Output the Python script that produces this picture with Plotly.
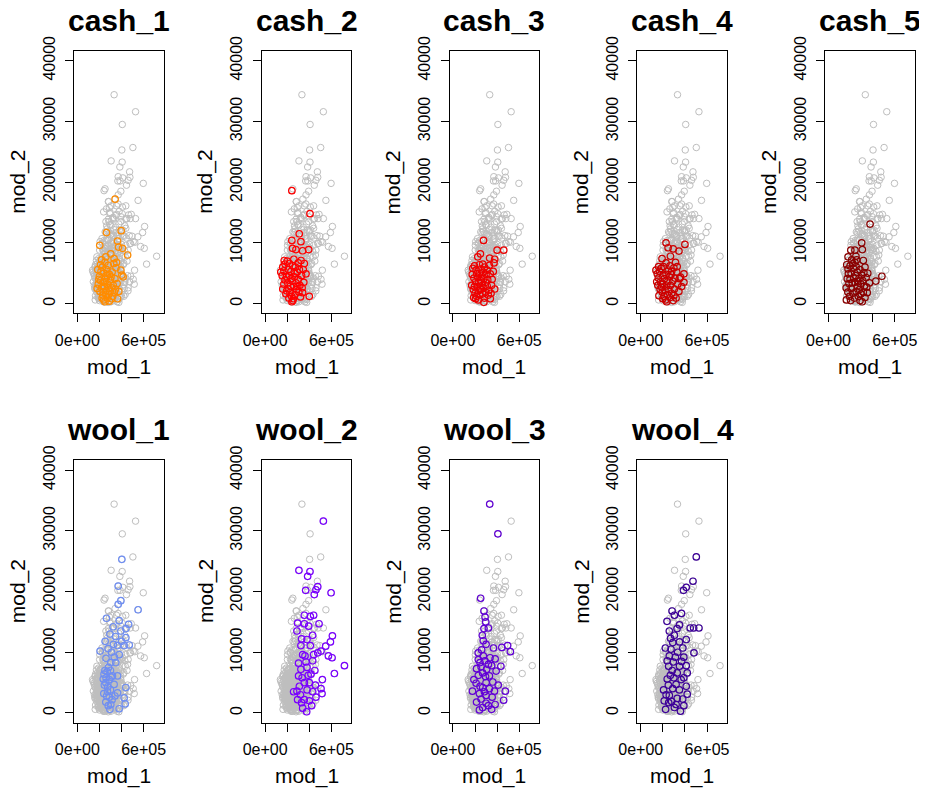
import plotly.graph_objects as go

# ---------------- data (mod_1, mod_2) per group ----------------
cash_1 = [(3.42e5,17200),(2.64e5,11700),(3.97e5,12000),(2.03e5,9600),(3.64e5,10300),(3.73e5,9300),(4.09e5,9100),(4.55e5,8000),(3.03e5,8200),(2.58e5,7700),(3.33e5,7400),(3.94e5,5500),(4.03e5,4700),(4.15e5,4400),(1.85e5,5600),(2.27e5,6000),(3.64e5,800),
          (2.00e5,4500),(2.10e5,3800),(1.90e5,3200),(2.20e5,2600),(2.05e5,2000),(2.30e5,1400),(2.40e5,600),(2.50e5,300),(2.70e5,900),(2.85e5,1500),(2.60e5,2100),(2.45e5,2800),(2.35e5,3500),(2.55e5,4200),(2.40e5,5000),(2.65e5,5600),(2.80e5,6300),(2.90e5,4800),(3.00e5,3900),(2.75e5,3200),(3.10e5,2600),(2.95e5,2000),(3.20e5,1200),(3.35e5,1900),(3.25e5,3000),(3.40e5,4100),(3.15e5,5200),(3.50e5,5900),(3.30e5,6600),(2.50e5,6800),(2.20e5,7200),(2.15e5,5300),(1.95e5,4000),(2.60e5,1500),(2.85e5,2600),(3.05e5,4400),(2.70e5,4600),(3.45e5,2400),(3.60e5,3300),(2.25e5,900),(2.90e5,400),(3.10e5,800),(2.35e5,1900),(2.50e5,3600),(2.75e5,5000),(3.55e5,6800),(2.10e5,6400),(3.75e5,2000),(1.80e5,2500)]

cash_2 = [(2.42e5,18600),(4.06e5,14800),(3.09e5,11500),(2.42e5,10400),(3.24e5,10200),(2.48e5,9100),(2.79e5,8900),(3.39e5,8700),(3.94e5,8900),(3.55e5,6600),(1.73e5,7100),(1.42e5,5200),(1.94e5,4400),(4.00e5,1200),(1.88e5,1600),(2.42e5,300),(3.39e5,1800),(3.70e5,4900),
          (1.60e5,6000),(1.80e5,6500),(2.00e5,7000),(2.20e5,6600),(2.10e5,5600),(1.70e5,5400),(1.55e5,4600),(1.80e5,3900),(2.05e5,3400),(2.20e5,4600),(2.35e5,5300),(2.50e5,6200),(2.60e5,7300),(2.75e5,6000),(2.90e5,5200),(2.65e5,4400),(2.45e5,3700),(2.30e5,2900),(2.10e5,2400),(1.95e5,2100),(2.25e5,1800),(2.40e5,1200),(2.55e5,800),(2.70e5,1500),(2.85e5,2300),(2.60e5,2800),(2.80e5,3400),(3.00e5,4000),(3.15e5,3000),(3.05e5,1900),(3.20e5,1100),(3.35e5,2600),(3.30e5,4600),(3.10e5,5600),(3.45e5,5600),(3.00e5,6700),(3.25e5,7100),(2.50e5,500),(2.15e5,900),(1.70e5,3200),(1.60e5,2400),(2.35e5,4100),(2.95e5,2800),(2.70e5,5000),(3.50e5,3500)]

cash_3 = [(2.77e5,10400),(4.00e5,8800),(4.60e5,8800),(2.49e5,8200),(2.25e5,7700),(3.32e5,7500),(3.78e5,7300),(3.72e5,6700),(2.86e5,6000),(3.38e5,4900),(3.78e5,2400),(3.38e5,800),(2.80e5,200),(1.88e5,1000),
          (1.80e5,5800),(1.95e5,6200),(2.10e5,5500),(1.75e5,4800),(1.90e5,4200),(2.05e5,3600),(1.70e5,3000),(1.85e5,2300),(2.00e5,1700),(2.15e5,1200),(2.30e5,600),(2.45e5,1400),(2.30e5,2100),(2.20e5,2800),(2.35e5,3400),(2.25e5,4300),(2.40e5,5000),(2.55e5,5700),(2.70e5,6500),(2.60e5,4500),(2.50e5,3800),(2.65e5,3000),(2.55e5,2300),(2.70e5,1600),(2.85e5,900),(2.95e5,1900),(2.80e5,2600),(2.95e5,3500),(2.80e5,4100),(3.00e5,4800),(3.10e5,5500),(3.15e5,3900),(3.10e5,2900),(3.25e5,2200),(3.20e5,1400),(3.45e5,1700),(3.50e5,3000),(3.55e5,4000),(2.05e5,800),(1.95e5,2800),(2.40e5,6400),(3.30e5,6300),(2.15e5,4900),(2.45e5,2600),(2.75e5,5200),(3.65e5,5300)]

cash_4 = [(2.29e5,10000),(4.00e5,9750),(2.48e5,9200),(2.94e5,9000),(3.46e5,8650),(1.93e5,7400),(2.69e5,7800),(3.15e5,6800),(2.29e5,6700),(1.62e5,6100),(1.38e5,5500),(3.91e5,4900),(3.91e5,3500),(3.60e5,4350),(2.94e5,500),(2.00e5,800),
          (1.50e5,4900),(1.70e5,5300),(1.85e5,5800),(2.05e5,6100),(1.60e5,4200),(1.80e5,3600),(1.55e5,3000),(1.75e5,2400),(1.95e5,1900),(1.65e5,1300),(2.10e5,1200),(2.25e5,600),(2.40e5,1500),(2.20e5,2200),(2.35e5,2900),(2.00e5,3200),(2.15e5,4100),(2.30e5,4800),(2.50e5,5500),(2.65e5,6200),(2.80e5,5300),(2.60e5,4400),(2.45e5,3600),(2.70e5,3000),(2.55e5,2300),(2.80e5,1700),(2.65e5,1000),(3.00e5,1300),(3.05e5,2400),(2.90e5,3700),(3.10e5,4200),(3.25e5,5200),(3.35e5,3200),(3.20e5,900),(3.45e5,2000),(3.50e5,4100),(3.70e5,2800),(2.00e5,4600),(1.90e5,2700),(2.75e5,4800),(3.00e5,5900),(2.35e5,300),(3.30e5,6100),(1.45e5,3600)]

cash_5 = [(3.76e5,13100),(3.00e5,10000),(2.02e5,8800),(2.39e5,8800),(3.06e5,8900),(2.48e5,7800),(1.77e5,7700),(3.15e5,7100),(2.39e5,6800),(3.30e5,6000),(1.77e5,5700),(4.83e5,4500),(4.28e5,3700),(3.70e5,3400),(3.46e5,2700),(1.62e5,600),
          (1.65e5,6400),(1.80e5,4900),(1.95e5,6200),(2.10e5,7200),(1.70e5,4100),(1.85e5,3300),(1.60e5,2600),(1.75e5,1900),(1.90e5,1200),(2.05e5,2500),(2.20e5,1700),(2.35e5,900),(2.15e5,3400),(2.30e5,4200),(2.05e5,5000),(2.25e5,5800),(2.50e5,6100),(2.60e5,5200),(2.45e5,4600),(2.40e5,3500),(2.60e5,2800),(2.50e5,2000),(2.70e5,1200),(2.85e5,500),(2.95e5,1600),(2.80e5,2300),(2.90e5,3300),(2.75e5,4100),(3.00e5,4700),(2.85e5,5600),(3.20e5,5100),(3.10e5,3800),(3.25e5,2900),(3.15e5,1900),(3.30e5,1000),(3.50e5,1800),(3.40e5,4300),(3.55e5,5000),(2.55e5,7200),(2.00e5,500),(2.20e5,6600),(2.65e5,3600),(1.95e5,4000),(3.05e5,300)]

wool_1 = [(4.03e5,25300),(3.70e5,20900),(3.94e5,18500),(3.70e5,17900),(5.50e5,17000),(2.64e5,15600),(3.79e5,15200),(3.24e5,14200),(4.64e5,14600),(4.39e5,13900),(3.94e5,13500),(4.39e5,12400),(2.52e5,11800),(3.27e5,11300),(3.64e5,11100),(4.24e5,11100),(4.70e5,11200),(2.79e5,10600),(2.06e5,10200),(3.79e5,9600),(3.03e5,8300),(3.48e5,8300),(2.82e5,7500),(2.42e5,6400),(3.18e5,6100),(3.64e5,6100),(2.58e5,5000),(3.33e5,4700),(4.39e5,4200),(2.73e5,3500),(3.64e5,3300),(4.24e5,2500),(2.58e5,1800),(3.03e5,1400),(3.79e5,700),(4.33e5,1500),
          (2.50e5,7000),(2.70e5,6800),(3.00e5,7000),(2.35e5,5600),(2.60e5,5800),(2.90e5,5500),(3.05e5,5900),(2.45e5,4600),(2.75e5,4300),(3.00e5,3800),(2.40e5,3200),(2.65e5,2800),(2.90e5,2600),(3.15e5,2200),(2.80e5,1200),(2.95e5,600),(3.40e5,2800),(3.35e5,9200),(2.60e5,9000),(3.10e5,10000),(4.00e5,11800),(3.45e5,12600),(2.95e5,13000)]

wool_2 = [(5.27e5,31600),(3.06e5,23500),(4.06e5,23300),(3.85e5,22500),(3.67e5,20200),(4.60e5,20300),(4.76e5,20800),(4.45e5,19500),(5.97e5,19800),(3.55e5,16100),(4.09e5,15900),(4.39e5,16100),(2.94e5,14800),(3.55e5,14700),(3.94e5,14300),(4.88e5,14700),(2.88e5,13500),(4.30e5,12800),(6.09e5,12700),(3.30e5,12200),(3.79e5,12100),(5.91e5,11700),(5.48e5,11000),(4.09e5,11100),(3.24e5,11100),(5.06e5,10200),(4.76e5,9900),(3.61e5,9400),(4.39e5,9600),(5.73e5,9400),(6.06e5,9100),(7.18e5,7800),(6.27e5,6500),(5.18e5,5500),(3.03e5,8200),(3.24e5,7200),(3.79e5,7500),(4.15e5,6400),(3.03e5,6100),(3.55e5,5000),(2.88e5,3600),(5.06e5,4000),(5.15e5,3200),(4.30e5,3500),(2.58e5,3500),(2.94e5,2200),(3.55e5,2200),(4.21e5,1200),(3.76e5,200),(3.30e5,1700),
          (3.40e5,9600),(3.70e5,8400),(4.30e5,8600),(4.50e5,7000),(3.90e5,6200),(3.35e5,5800),(4.00e5,5000),(4.55e5,4600),(3.20e5,3000),(3.80e5,3800),(4.60e5,2600),(3.40e5,800),(4.00e5,2000),(3.10e5,4400)]

wool_3 = [(3.33e5,34400),(4.07e5,29500),(2.51e5,18900),(2.81e5,16800),(2.91e5,15800),(2.97e5,15000),(3.21e5,14000),(2.81e5,13900),(2.66e5,12800),(2.75e5,11900),(3.00e5,11300),(3.67e5,10700),(4.43e5,10800),(4.95e5,11100),(5.20e5,10100),(2.29e5,9900),(2.75e5,9400),(3.36e5,9100),(3.82e5,8900),(2.45e5,8300),(3.21e5,8000),(4.34e5,7700),(2.14e5,7300),(2.69e5,6600),(3.91e5,6900),(1.90e5,5500),(3.00e5,5000),(3.61e5,5100),(2.45e5,4400),(1.77e5,3600),(3.76e5,3600),(4.74e5,3600),(3.00e5,2900),(4.59e5,2100),(2.14e5,1800),(3.82e5,1400),(2.69e5,900),(3.21e5,1200),
          (2.30e5,8800),(2.90e5,8600),(2.55e5,7600),(3.05e5,7200),(3.50e5,7800),(2.30e5,6200),(2.95e5,6000),(3.30e5,6100),(2.10e5,4900),(2.70e5,4200),(3.30e5,4000),(2.40e5,3200),(2.85e5,3500),(3.55e5,2600),(2.55e5,2300),(3.00e5,1600),(2.40e5,500),(3.50e5,600),(4.10e5,4600),(2.60e5,10400)]

wool_4 = [(5.03e5,25700),(4.73e5,21700),(4.12e5,20700),(3.87e5,20200),(2.84e5,16800),(3.05e5,16100),(3.69e5,16400),(2.38e5,15100),(3.51e5,14500),(4.48e5,14000),(4.79e5,14000),(5.27e5,14000),(2.59e5,13500),(3.29e5,13900),(3.05e5,12800),(2.90e5,11600),(3.51e5,11700),(4.12e5,12100),(2.23e5,10700),(2.74e5,10500),(3.81e5,10700),(4.82e5,9900),(2.59e5,9400),(3.14e5,9200),(3.90e5,9200),(2.53e5,7700),(3.51e5,7700),(4.12e5,7800),(4.21e5,6600),(2.68e5,6200),(3.66e5,5500),(3.20e5,4700),(4.12e5,4400),(2.07e5,3800),(4.21e5,3100),(2.59e5,2900),(2.13e5,2000),(2.53e5,1700),(3.05e5,900),(3.60e5,300),(3.20e5,1400),
          (2.40e5,8600),(2.95e5,8400),(3.70e5,8500),(2.85e5,7000),(3.30e5,6600),(2.40e5,5600),(3.00e5,5800),(3.90e5,5800),(2.50e5,4600),(2.90e5,4000),(3.50e5,3800),(2.30e5,3000),(3.30e5,2400),(3.80e5,2300),(2.80e5,1900),(2.25e5,600),(3.90e5,1200),(3.35e5,10000),(2.70e5,12300)]

group_names = ["cash_1", "cash_2", "cash_3", "cash_4", "cash_5",
               "wool_1", "wool_2", "wool_3", "wool_4"]
group_points = [cash_1, cash_2, cash_3, cash_4, cash_5,
                wool_1, wool_2, wool_3, wool_4]
group_colors = ["#FF8C00", "#FF0000", "#EE0000", "#CD0000", "#8B0000",
                "#6F8EF2", "#7A00FF", "#6200D6", "#3D0099"]

x_tick_vals = [0, 2e5, 4e5, 6e5]
x_tick_text = ["0e+00", "", "", "6e+05"]
y_tick_vals = [0, 10000, 20000, 30000, 40000]
y_tick_text = ["0", "10000", "20000", "30000", "40000"]

# ---------------- layout geometry (pixels, figure coordinates) ----------------
# the page body has an 8px margin, so the figure is laid out 8px up/left
OFF = 8
W, H = 927 - OFF, 791 - OFF
FONT = "Liberation Sans, Arial, Helvetica, sans-serif"
box_w = 89.5
col_left = [74 - OFF + 187.8 * c for c in range(5)]
row_top = [51 - OFF, 460.4 - OFF]
row_bot = [313.3 - OFF, 722.7 - OFF]
row_shift = 409.4

all_x = [p[0] for pts in group_points for p in pts]
all_y = [p[1] for pts in group_points for p in pts]

fig = go.Figure()
annotations = []
layout_axes = {}

for i, (name, pts, color) in enumerate(zip(group_names, group_points, group_colors)):
    r, c = divmod(i, 5)
    sfx = "" if i == 0 else str(i + 1)
    L = col_left[c]
    R = L + box_w
    T = row_top[r]
    B = row_bot[r]
    gx = [p[0] for p in pts]
    gy = [p[1] for p in pts]
    fig.add_trace(go.Scatter(
        x=all_x, y=all_y, mode="markers", xaxis="x" + sfx, yaxis="y" + sfx,
        marker=dict(symbol="circle-open", size=6.5, color="#BEBEBE", line=dict(width=1)),
        showlegend=False, hoverinfo="skip"))
    fig.add_trace(go.Scatter(
        x=gx, y=gy, mode="markers", xaxis="x" + sfx, yaxis="y" + sfx,
        marker=dict(symbol="circle-open", size=6.5, color=color, line=dict(width=1.2)),
        showlegend=False, name=name))
    layout_axes["xaxis" + sfx] = dict(
        domain=[L / W, R / W], anchor="y" + sfx, range=[-30000, 780000],
        automargin=False,
        tickmode="array", tickvals=x_tick_vals, ticktext=x_tick_text,
        ticks="outside", ticklen=8, tickwidth=1, tickcolor="black",
        showline=True, linecolor="black", linewidth=1, mirror=True,
        showgrid=False, zeroline=False, ticklabelstandoff=4,
        tickfont=dict(family=FONT, size=16, color="black"))
    layout_axes["yaxis" + sfx] = dict(
        domain=[1 - B / H, 1 - T / H], anchor="x" + sfx, range=[-1600, 41600],
        automargin=False,
        tickmode="array", tickvals=y_tick_vals, ticktext=y_tick_text,
        ticks="outside", ticklen=8, tickwidth=1, tickcolor="black", tickangle=-90,
        showline=True, linecolor="black", linewidth=1, mirror=True,
        showgrid=False, zeroline=False, ticklabelstandoff=4,
        tickfont=dict(family=FONT, size=16, color="black"))
    cx = (L + R) / 2
    # panel title
    annotations.append(dict(
        text="<b>" + name + "</b>", x=cx / W, y=1 - (20.6 - OFF + row_shift * r) / H,
        xref="paper", yref="paper", xanchor="center", yanchor="middle",
        showarrow=False, font=dict(family=FONT, size=30, color="black")))
    # x axis title
    annotations.append(dict(
        text="mod_1", x=cx / W, y=1 - (366.7 - OFF + row_shift * r) / H,
        xref="paper", yref="paper", xanchor="center", yanchor="middle",
        showarrow=False, font=dict(family=FONT, size=21, color="black")))
    # y axis title
    annotations.append(dict(
        text="mod_2", x=(L - 56.3) / W, y=1 - ((T + B) / 2) / H,
        xref="paper", yref="paper", xanchor="center", yanchor="middle",
        textangle=-90, showarrow=False, font=dict(family=FONT, size=21, color="black")))

fig.update_layout(
    width=W, height=H, margin=dict(l=0, r=0, t=0, b=0, autoexpand=False),
    paper_bgcolor="white", plot_bgcolor="white",
    annotations=annotations, **layout_axes)

fig.write_html("out.html")
